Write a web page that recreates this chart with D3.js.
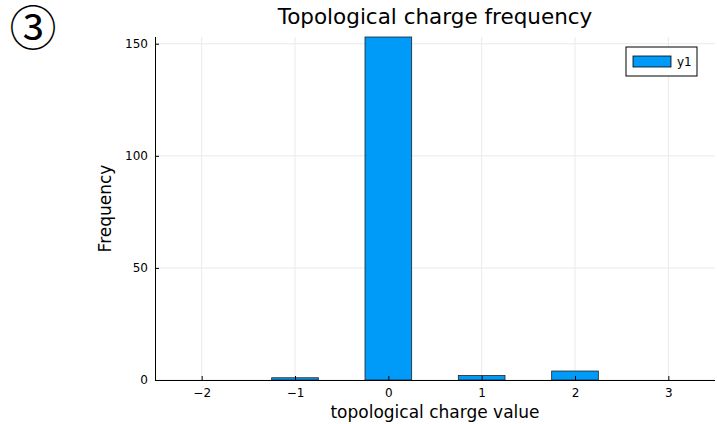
<!DOCTYPE html>
<html>
<head>
<meta charset="utf-8">
<script src="https://cdn.jsdelivr.net/npm/d3@7"></script>
<style>
  body { margin: 0; background: #fff; }
  text { font-family: "DejaVu Sans", sans-serif; }
</style>
</head>
<body>
<div id="chart"></div>
<script>
const charges = [-2, -1, 0, 1, 2, 3];
const counts = [0, 1, 153, 2, 4, 0];
const yTicks = [0, 50, 100, 150];

const W = 717, H = 424;
const m = {left: 155, right: 2, top: 37, bottom: 44};

const svg = d3.select('#chart').append('svg')
    .attr('width', W)
    .attr('height', H);

const x = d3.scaleLinear().domain([-2.5, 3.5]).range([m.left, W - m.right]);
const y = d3.scaleLinear().domain([0, 153]).range([H - m.bottom, m.top]);

// grid
svg.append('g').selectAll('line.gx').data(charges).enter().append('line')
    .attr('x1', d => x(d)).attr('x2', d => x(d))
    .attr('y1', m.top).attr('y2', H - m.bottom)
    .attr('stroke', '#e9e9e9').attr('stroke-width', 1);
svg.append('g').selectAll('line.gy').data(yTicks).enter().append('line')
    .attr('x1', m.left).attr('x2', W - m.right)
    .attr('y1', d => y(d)).attr('y2', d => y(d))
    .attr('stroke', '#e9e9e9').attr('stroke-width', 1);

// bars
const bw = x(0.25) - x(-0.25);
svg.append('g').selectAll('rect').data(charges).enter().append('rect')
    .attr('x', d => x(d) - bw / 2)
    .attr('width', bw)
    .attr('y', (d, i) => y(counts[i]))
    .attr('height', (d, i) => y(0) - y(counts[i]))
    .attr('fill', '#009af9')
    .attr('stroke', '#222')
    .attr('stroke-width', 0.8);

// axes
const xAxis = d3.axisBottom(x).tickValues(charges).tickSize(-4).tickPadding(8)
    .tickFormat(d => d < 0 ? '\u2212' + Math.abs(d) : d);
const gx = svg.append('g').attr('transform', 'translate(0,' + (H - m.bottom) + ')').call(xAxis);
gx.select('.domain').attr('stroke', '#000').attr('d', 'M' + m.left + ',0.5H' + (W - m.right));
gx.selectAll('.tick line').attr('stroke', '#000');
gx.selectAll('.tick text').attr('font-size', 12).attr('fill', '#000');

const yAxis = d3.axisLeft(y).tickValues(yTicks).tickSize(-4).tickPadding(7);
const gy = svg.append('g').attr('transform', 'translate(' + m.left + ',0)').call(yAxis);
gy.select('.domain').attr('stroke', '#000').attr('d', 'M0.5,' + m.top + 'V' + (H - m.bottom));
gy.selectAll('.tick line').attr('stroke', '#000');
gy.selectAll('.tick text').attr('font-size', 12).attr('fill', '#000');

// title and labels
svg.append('text')
    .attr('x', (m.left + W - m.right) / 2).attr('y', 24)
    .attr('text-anchor', 'middle').attr('font-size', 21.5)
    .text('Topological charge frequency');
svg.append('text')
    .attr('x', (m.left + W - m.right) / 2).attr('y', 418)
    .attr('text-anchor', 'middle').attr('font-size', 17)
    .text('topological charge value');
svg.append('text')
    .attr('transform', 'translate(111,' + ((m.top + H - m.bottom) / 2) + ') rotate(-90)')
    .attr('text-anchor', 'middle').attr('font-size', 17)
    .text('Frequency');

svg.append('text')
    .attr('x', 33).attr('y', 45)
    .attr('text-anchor', 'middle').attr('font-size', 47)
    .style('font-family', '"Noto Sans CJK JP", "DejaVu Sans", sans-serif')
    .text('\u2462');

// legend
const lg = svg.append('g').attr('transform', 'translate(626,47)');
lg.append('rect').attr('width', 71).attr('height', 29)
    .attr('fill', '#fff').attr('stroke', '#000').attr('stroke-width', 1);
lg.append('rect').attr('x', 7).attr('y', 9).attr('width', 38).attr('height', 11)
    .attr('fill', '#009af9').attr('stroke', '#000').attr('stroke-width', 0.8);
lg.append('text').attr('x', 51).attr('y', 19).attr('font-size', 12).text('y1');
</script>
</body>
</html>
